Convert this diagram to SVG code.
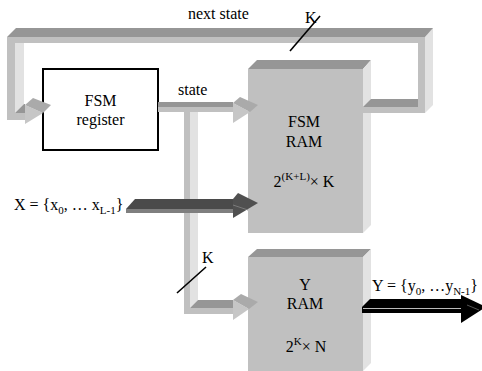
<svg xmlns="http://www.w3.org/2000/svg" width="482" height="371" viewBox="0 0 482 371">
<style>
text{font-family:"Liberation Serif","Times New Roman",serif;font-size:16px;fill:#000}
.top{fill:#969696}
.front{fill:#c0c0c0}
.side{fill:#e2e2e2}
.hf{fill:#c6c6c6}
.facet{fill:#aaaaaa}
.sub{font-size:11px}
</style>
<rect width="482" height="371" fill="#fff"/>
<g id="fsm-ram">
<polygon class="top" points="248,69 257,60 371,60 363,69"/>
<polygon class="side" points="363,69 371,60 371,225 363,233"/>
<rect class="front" x="248" y="69" width="115" height="164"/>
<text x="304" y="127" text-anchor="middle">FSM</text>
<text x="304" y="147" text-anchor="middle">RAM</text>
<text x="304" y="187" text-anchor="middle">2<tspan class="sub" dy="-7">(K+L)</tspan><tspan dy="7">× K</tspan></text>
</g>
<g id="y-ram">
<polygon class="top" points="248,257 257,249 371,249 363,257"/>
<polygon class="side" points="363,257 371,249 371,363 363,371"/>
<rect class="front" x="248" y="257" width="115" height="114"/>
<text x="305" y="290" text-anchor="middle">Y</text>
<text x="305" y="309" text-anchor="middle">RAM</text>
<text x="306" y="352" text-anchor="middle">2<tspan class="sub" dy="-7">K</tspan><tspan dy="7">× N</tspan></text>
</g>
<g id="fsm-register">
<rect x="43" y="69" width="115" height="81" fill="#fff" stroke="#000" stroke-width="2"/>
<text x="100.5" y="106" text-anchor="middle">FSM</text>
<text x="100.5" y="125" text-anchor="middle">register</text>
</g>
<g id="connectors">
<!-- next state loop -->
<polygon class="top" points="363,107 371,99 418,99 418,107"/>
<rect class="front" x="363" y="107" width="55" height="6"/>
<polygon class="side" points="425,37 433,28 433,105 425,113"/>
<rect class="front" x="418" y="37" width="7" height="76"/>
<polygon class="top" points="7,37 16,28 433,28 425,37"/>
<rect class="front" x="7" y="37" width="418" height="6"/>
<polygon class="side" points="15,43 24,43 24,104 15,113"/>
<rect class="front" x="7" y="37" width="8" height="83"/>
<rect class="front" x="7" y="113" width="18" height="7"/>
<polygon class="top" points="15,113 24,104 25,104 25,113"/>
<polygon class="hf" points="25,105 43,113 25,124"/>
<polygon class="facet" points="25,105 33,98 51,105 43,113"/>
<text x="188" y="19">next state</text>
<text x="305" y="23">K</text>
<line x1="290" y1="51" x2="320" y2="16" stroke="#000" stroke-width="1.6"/>
<!-- state -->
<rect class="top" x="158" y="102" width="75" height="5"/>
<rect class="front" x="158" y="107" width="75" height="5"/>
<polygon class="side" points="190,112 198,112 198,300 190,308"/>
<rect class="front" x="184" y="112" width="6" height="202"/>
<polygon class="top" points="190,308 198,300 233,300 233,308"/>
<rect class="front" x="184" y="308" width="49" height="6"/>
<polygon class="hf" points="233,103 250,112 233,123"/>
<polygon class="facet" points="233,103 240,97 258,105 250,112"/>
<polygon class="hf" points="233,300 249,309 233,320"/>
<polygon class="facet" points="233,300 241,294 258,302 249,309"/>
<text x="178" y="95">state</text>
<text x="202" y="263">K</text>
<line x1="177" y1="293" x2="206" y2="267" stroke="#000" stroke-width="1.6"/>
<!-- X input -->
<polygon fill="#4a4a4a" points="126,209 135,199 237,199 233,209"/>
<rect fill="#7f7f7f" x="126" y="209" width="107" height="4"/>
<polygon fill="#505050" points="233,199 238,193 258,203 233,218"/>
<line x1="233" y1="205" x2="248" y2="210" stroke="#7a7a7a" stroke-width="1"/>
<text x="14" y="210">X = {x<tspan class="sub" dy="4">0</tspan><tspan dy="-4">, … x</tspan><tspan class="sub" dy="4">L-1</tspan><tspan dy="-4">}</tspan></text>
<!-- Y output -->
<polygon fill="#000" points="362,313 362,307 370,299 462,299 462,313"/>
<line x1="363" y1="308.5" x2="461" y2="308.5" stroke="#bbb" stroke-width="1"/>
<polygon fill="#000" points="461,295 486,307 461,323"/>
<line x1="467" y1="305" x2="479" y2="310" stroke="#555" stroke-width="1"/>
<text x="372" y="291">Y = {y<tspan class="sub" dy="4">0</tspan><tspan dy="-4">, …y</tspan><tspan class="sub" dy="4">N-1</tspan><tspan dy="-4">}</tspan></text>
</g>
</svg>
